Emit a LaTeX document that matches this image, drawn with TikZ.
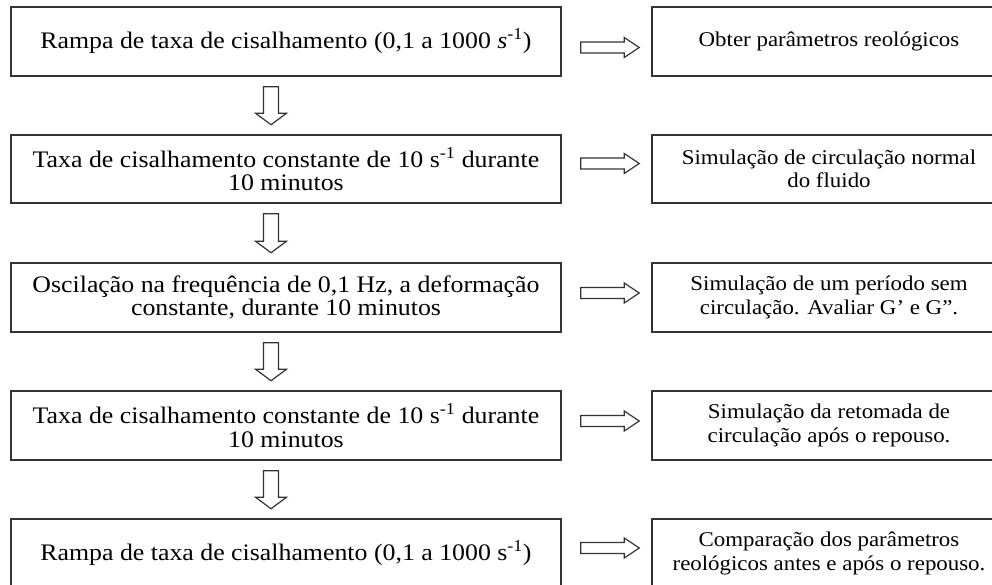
\documentclass[tikz,border=0pt]{standalone}
\usepackage{fontspec}
\setmainfont{Liberation Serif}[FakeStretch=1.09]
\usetikzlibrary{calc}
\newcommand\harr[3]{%
  \draw[blk] let \p1=(#1.east), \p2=(#2.west), \n1={\y1-(#3)*1pt} in
   (\x1+19pt,\n1+5.5pt) -- (\x2-27pt,\n1+5.5pt) -- (\x2-27pt,\n1+10pt) -- (\x2-12pt,\n1)
   -- (\x2-27pt,\n1-10pt) -- (\x2-27pt,\n1-5.5pt) -- (\x1+19pt,\n1-5.5pt) -- cycle;}
\newcommand\varr[2]{%
  \draw[blk] let \p1=(#1.south), \p2=(#2.north), \n1={\x1-15pt} in
   (\n1-7.5pt,\y1-10pt) -- (\n1-7.5pt,\y2+21pt) -- (\n1-15.5pt,\y2+21pt) -- (\n1,\y2+9.5pt)
   -- (\n1+15.5pt,\y2+21pt) -- (\n1+7.5pt,\y2+21pt) -- (\n1+7.5pt,\y1-10pt) -- cycle;}
\begin{document}
\begin{tikzpicture}[x=1pt,y=-1pt,
  box/.style={draw=black!80, line width=1.5pt, inner sep=0pt, align=center},
  lbox/.style={box, minimum width=550pt, minimum height=69pt, font=\fontsize{23.7}{23.5}\selectfont},
  rbox/.style={box, minimum width=354pt, minimum height=69pt, font=\fontsize{21}{23.5}\selectfont},
  blk/.style={draw=black!80, line width=1.2pt, fill=white, line join=miter}]
\clip (0,0) rectangle (992,585);
\fill[white] (0,0) rectangle (992,585);
% left column
\node[lbox] (L1) at (286,41.5) {Rampa de taxa de cisalhamento (0,1 a 1000 \textit{s}\textsuperscript{-1})};
\node[lbox, minimum height=68pt] (L2) at (286,169) {Taxa de cisalhamento constante de 10 s\textsuperscript{-1} durante\\10 minutos};
\node[lbox] (L3) at (286,297.5) {Oscilação na frequência de 0,1 Hz, a deformação\\constante, durante 10 minutos};
\node[lbox] (L4) at (286,425.5) {Taxa de cisalhamento constante de 10 s\textsuperscript{-1} durante\\10 minutos};
\node[lbox] (L5) at (286,553.5) {Rampa de taxa de cisalhamento (0,1 a 1000 s\textsuperscript{-1})};
% right column
\node[rbox] (R1) at (829,41.5) {Obter parâmetros reológicos};
\node[rbox, minimum height=68pt] (R2) at (829,169) {Simulação de circulação normal\\do fluido};
\node[rbox] (R3) at (829,297.5) {Simulação de um período sem\\circulação. Avaliar G’ e G”.};
\node[rbox] (R4) at (829,425.5) {Simulação da retomada de\\circulação após o repouso.};
\node[rbox] (R5) at (829,553.5) {Comparação dos parâmetros\\reológicos antes e após o repouso.};
% arrows
\harr{L1}{R1}{6}
\harr{L2}{R2}{-5.5}
\harr{L3}{R3}{-4.5}
\harr{L4}{R4}{-4.5}
\harr{L5}{R5}{-5.5}
\varr{L1}{L2}
\varr{L2}{L3}
\varr{L3}{L4}
\varr{L4}{L5}
\end{tikzpicture}
\end{document}
